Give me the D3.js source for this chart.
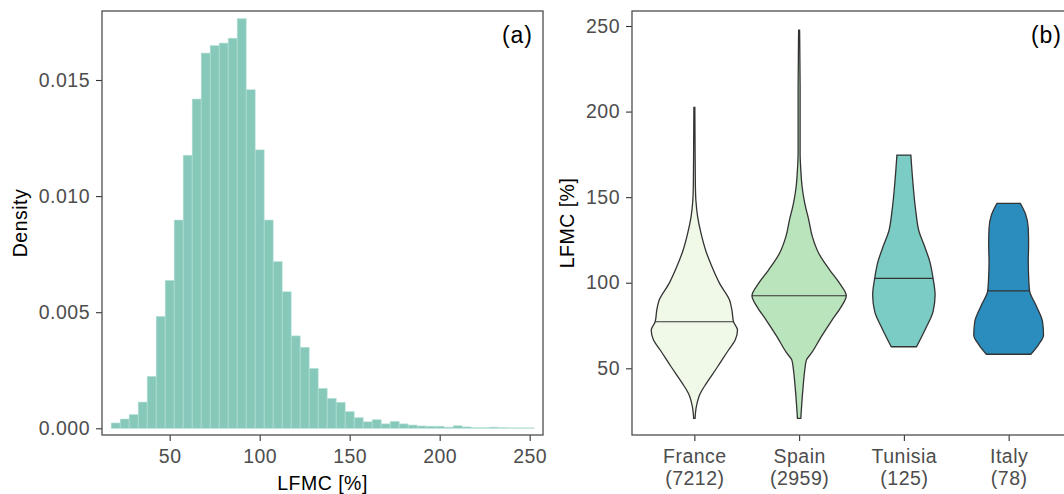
<!DOCTYPE html>
<html>
<head>
<meta charset="utf-8">
<script src="https://cdn.jsdelivr.net/npm/d3@7"></script>
<style>
  body { margin: 0; background: #fff; }
  text { font-family: "Liberation Sans", Arial, sans-serif; }
</style>
</head>
<body>
<div id="chart"></div>
<script>
// (a) histogram, binwidth 5
var binStart = [17.5, 22.5, 27.5, 32.5, 37.5, 42.5, 47.5, 52.5, 57.5, 62.5,
  67.5, 72.5, 77.5, 82.5, 87.5, 92.5, 97.5, 102.5, 107.5, 112.5,
  117.5, 122.5, 127.5, 132.5, 137.5, 142.5, 147.5, 152.5, 157.5, 162.5,
  167.5, 172.5, 177.5, 182.5, 187.5, 192.5, 197.5, 202.5, 207.5, 212.5,
  217.5, 222.5, 227.5, 232.5, 237.5, 242.5, 247.5];
var density = [0.00023, 0.00040, 0.00059, 0.00113, 0.00224, 0.00482, 0.00637, 0.00897, 0.01176, 0.01418,
  0.01616, 0.01648, 0.01659, 0.01680, 0.01764, 0.01458, 0.01199, 0.00897, 0.00718, 0.00588,
  0.00398, 0.00349, 0.00258, 0.00172, 0.00129, 0.00112, 0.00072, 0.00046, 0.00028, 0.00037,
  0.00019, 0.00030, 0.00019, 0.00014, 0.00010, 0.00009, 0.00009, 0.00005, 0.00011, 0.00006,
  0.00003, 0.00003, 0.00005, 0.00003, 0.00002, 0.00002, 0.00002];
var binWidth = 5;
var xTicksA = [50, 100, 150, 200, 250];
var yTicksA = [0, 0.005, 0.010, 0.015];

// (b) violins: LFMC value and relative half-width (1 = widest)
var countries = ["France", "Spain", "Tunisia", "Italy"];
var counts = [7212, 2959, 125, 78];
var medians = [77.2, 92.4, 102.6, 95.2];
var colors = ["#f0f9e8", "#bae4bc", "#7bccc4", "#2b8cbe"];
var franceLfmc = [20.8, 27.6, 35.4, 41.2, 50.9, 60.7, 66.5, 72.4, 77.2, 84, 89.9, 99.6, 109.3, 119, 128.8, 138.5, 148.3, 158, 180, 202.4];
var franceWidth = [0.015, 0.042, 0.127, 0.254, 0.493, 0.725, 0.867, 0.915, 0.831, 0.797, 0.746, 0.535, 0.374, 0.239, 0.142, 0.07, 0.032, 0.021, 0.015, 0.01];
var spainLfmc = [20.8, 29.6, 39.3, 49, 54.8, 58.8, 68.5, 78.2, 86, 92.4, 99.6, 107.4, 117.2, 126.9, 136.6, 146.4, 156.1, 165.8, 175.6, 214.5, 247.6];
var spainWidth = [0.036, 0.057, 0.085, 0.12, 0.154, 0.26, 0.471, 0.698, 0.894, 1.0, 0.86, 0.649, 0.416, 0.281, 0.205, 0.12, 0.063, 0.036, 0.021, 0.021, 0.01];
var tunisiaLfmc = [62.6, 73.4, 83.1, 92.8, 102.6, 112.3, 122, 129.8, 141.5, 161, 174.6];
var tunisiaWidth = [0.268, 0.465, 0.619, 0.662, 0.619, 0.55, 0.429, 0.323, 0.254, 0.184, 0.148];
var italyLfmc = [58.2, 63.6, 69.5, 77.2, 87, 95.2, 104.5, 112.3, 122, 131.8, 139.5, 146.4];
var italyWidth = [0.471, 0.628, 0.74, 0.719, 0.577, 0.444, 0.423, 0.416, 0.423, 0.416, 0.366, 0.247];
var yTicksB = [50, 100, 150, 200, 250];

var violinLfmc = [franceLfmc, spainLfmc, tunisiaLfmc, italyLfmc];
var violinWidth = [franceWidth, spainWidth, tunisiaWidth, italyWidth];

var W = 1064, H = 494;
var fontSize = "19.5px";
var tickCol = "#4d4d4d";

var svg = d3.select("#chart")
  .append("svg")
    .attr("width", W)
    .attr("height", H);

function styleAxis(g) {
  g.select(".domain").remove();
  g.selectAll(".tick line").attr("stroke", "#333").attr("stroke-width", 1.1);
  g.selectAll(".tick text")
    .attr("fill", tickCol)
    .style("font-size", fontSize)
    .style("letter-spacing", "0.5px")
    .style("font-family", "'Liberation Sans', Arial, sans-serif");
}

// ---------- panel (a) ----------
var a = {left: 102, right: 543, top: 11, bottom: 435};
var xA = d3.scaleLinear().domain([12.4, 257.4]).range([a.left, a.right]);
var yA = d3.scaleLinear().domain([0, 0.015]).range([428.3, 80]);

svg.append("g")
  .selectAll("rect")
  .data(density)
  .join("rect")
    .attr("x", (d, i) => xA(binStart[i]))
    .attr("width", (d, i) => xA(binStart[i] + binWidth) - xA(binStart[i]))
    .attr("y", d => yA(d))
    .attr("height", d => yA(0) - yA(d))
    .attr("fill", "#86c8ba")
    .attr("stroke", "#b9e2d8")
    .attr("stroke-width", 0.6);

svg.append("g")
  .attr("transform", "translate(0," + a.bottom + ")")
  .call(d3.axisBottom(xA).tickValues(xTicksA).tickSize(6).tickPadding(8))
  .call(styleAxis);

svg.append("g")
  .attr("transform", "translate(" + a.left + ",0)")
  .call(d3.axisLeft(yA).tickValues(yTicksA).tickFormat(d3.format(".3f")).tickSize(6).tickPadding(6))
  .call(styleAxis);

svg.append("rect")
  .attr("x", a.left).attr("y", a.top)
  .attr("width", a.right - a.left).attr("height", a.bottom - a.top)
  .attr("fill", "none").attr("stroke", "#4d4d4d").attr("stroke-width", 1.3);

svg.append("text")
  .attr("x", (a.left + a.right) / 2).attr("y", 490)
  .attr("text-anchor", "middle")
  .style("font-size", "19.5px").style("letter-spacing", "0.5px")
  .text("LFMC [%]");

svg.append("text")
  .attr("transform", "translate(26.5," + (a.top + a.bottom) / 2 + ")rotate(-90)")
  .attr("text-anchor", "middle")
  .style("font-size", "19.5px").style("letter-spacing", "0.5px")
  .text("Density");

svg.append("text")
  .attr("x", a.right - 10).attr("y", 43)
  .attr("text-anchor", "end")
  .style("font-size", "23px").style("letter-spacing", "1px")
  .text("(a)");

// ---------- panel (b) ----------
var b = {left: 632, right: 1072, top: 11, bottom: 435};
var xB = d3.scalePoint().domain(countries).range([631.5, 1071.5]).padding(0.6);
var yB = d3.scaleLinear().domain([50, 250]).range([368.3, 26]);
var wB = d3.scaleLinear().domain([0, 1]).range([0, xB.step() * 0.45]);

countries.forEach(function (c, i) {
  var cx = xB(c);
  var pts = violinLfmc[i].map((v, j) => [v, violinWidth[i][j]]);
  var area = d3.area()
    .curve(d3.curveMonotoneY)
    .y(d => yB(d[0]))
    .x0(d => cx - wB(d[1]))
    .x1(d => cx + wB(d[1]));
  svg.append("path")
    .datum(pts)
    .attr("d", area)
    .attr("fill", colors[i])
    .attr("stroke", "#333")
    .attr("stroke-width", 1.3);

  var atMedian = d3.scaleLinear().domain(violinLfmc[i]).range(violinWidth[i])(medians[i]);
  svg.append("line")
    .attr("x1", cx - wB(atMedian)).attr("x2", cx + wB(atMedian))
    .attr("y1", yB(medians[i])).attr("y2", yB(medians[i]))
    .attr("stroke", "#333").attr("stroke-width", 1.2);
});

var xAxisB = svg.append("g")
  .attr("transform", "translate(0," + b.bottom + ")")
  .call(d3.axisBottom(xB).tickSize(6).tickPadding(8))
  .call(styleAxis);
xAxisB.selectAll(".tick text")
  .text(null)
  .each(function (d, i) {
    var t = d3.select(this);
    t.append("tspan").attr("x", 0).text(d);
    t.append("tspan").attr("x", 0).attr("dy", "1.14em").text("(" + counts[i] + ")");
  });

svg.append("g")
  .attr("transform", "translate(" + b.left + ",0)")
  .call(d3.axisLeft(yB).tickValues(yTicksB).tickSize(6).tickPadding(6))
  .call(styleAxis);

svg.append("rect")
  .attr("x", b.left).attr("y", b.top)
  .attr("width", b.right - b.left).attr("height", b.bottom - b.top)
  .attr("fill", "none").attr("stroke", "#4d4d4d").attr("stroke-width", 1.3);

svg.append("text")
  .attr("transform", "translate(573.5," + (b.top + b.bottom) / 2 + ")rotate(-90)")
  .attr("text-anchor", "middle")
  .style("font-size", "19.5px").style("letter-spacing", "0.5px")
  .text("LFMC [%]");

svg.append("text")
  .attr("x", b.right - 10).attr("y", 43)
  .attr("text-anchor", "end")
  .style("font-size", "23px").style("letter-spacing", "1px")
  .text("(b)");
</script>
</body>
</html>
